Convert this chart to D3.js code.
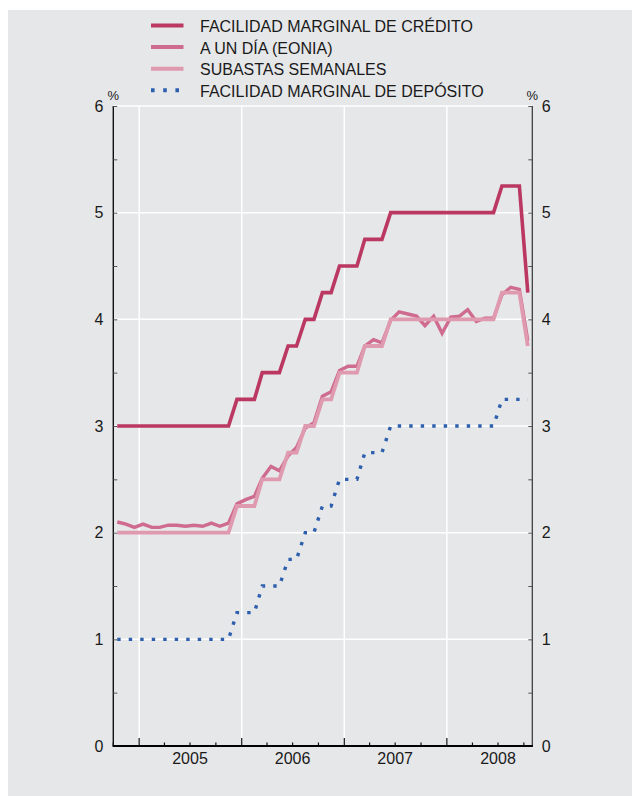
<!DOCTYPE html>
<html>
<head>
<meta charset="utf-8">
<script src="https://cdn.jsdelivr.net/npm/d3@7"></script>
<style>
    body { margin: 0; background: #fff; }
    svg { display: block; }
    text { font-family: "Liberation Sans", Arial, Helvetica, sans-serif; fill: #1a1a1a; }
</style>
</head>
<body>
<div id="chart"></div>
<script>
// monthly averages, Oct 2004 .. Oct 2008
let months = [
    '2004-10', '2004-11', '2004-12',
    '2005-01', '2005-02', '2005-03', '2005-04', '2005-05', '2005-06', '2005-07', '2005-08', '2005-09', '2005-10', '2005-11', '2005-12',
    '2006-01', '2006-02', '2006-03', '2006-04', '2006-05', '2006-06', '2006-07', '2006-08', '2006-09', '2006-10', '2006-11', '2006-12',
    '2007-01', '2007-02', '2007-03', '2007-04', '2007-05', '2007-06', '2007-07', '2007-08', '2007-09', '2007-10', '2007-11', '2007-12',
    '2008-01', '2008-02', '2008-03', '2008-04', '2008-05', '2008-06', '2008-07', '2008-08', '2008-09', '2008-10'
];

let credito = [
    3.00, 3.00, 3.00,
    3.00, 3.00, 3.00, 3.00, 3.00, 3.00, 3.00, 3.00, 3.00, 3.00, 3.00, 3.25,
    3.25, 3.25, 3.50, 3.50, 3.50, 3.75, 3.75, 4.00, 4.00, 4.25, 4.25, 4.50,
    4.50, 4.50, 4.75, 4.75, 4.75, 5.00, 5.00, 5.00, 5.00, 5.00, 5.00, 5.00,
    5.00, 5.00, 5.00, 5.00, 5.00, 5.00, 5.25, 5.25, 5.25, 4.25
];

let eonia = [
    2.10, 2.08, 2.05,
    2.08, 2.05, 2.05, 2.07, 2.07, 2.06, 2.07, 2.06, 2.09, 2.06, 2.09, 2.27,
    2.31, 2.34, 2.51, 2.62, 2.58, 2.72, 2.80, 2.98, 3.03, 3.28, 3.32, 3.52,
    3.56, 3.56, 3.75, 3.81, 3.78, 3.99, 4.07, 4.05, 4.03, 3.94, 4.03, 3.87,
    4.02, 4.03, 4.09, 3.98, 4.01, 4.01, 4.23, 4.30, 4.28, 3.80
];

let subastas = [
    2.00, 2.00, 2.00,
    2.00, 2.00, 2.00, 2.00, 2.00, 2.00, 2.00, 2.00, 2.00, 2.00, 2.00, 2.25,
    2.25, 2.25, 2.50, 2.50, 2.50, 2.75, 2.75, 3.00, 3.00, 3.25, 3.25, 3.50,
    3.50, 3.50, 3.75, 3.75, 3.75, 4.00, 4.00, 4.00, 4.00, 4.00, 4.00, 4.00,
    4.00, 4.00, 4.00, 4.00, 4.00, 4.00, 4.25, 4.25, 4.25, 3.75
];

let deposito = [
    1.00, 1.00, 1.00,
    1.00, 1.00, 1.00, 1.00, 1.00, 1.00, 1.00, 1.00, 1.00, 1.00, 1.00, 1.25,
    1.25, 1.25, 1.50, 1.50, 1.50, 1.75, 1.75, 2.00, 2.00, 2.25, 2.25, 2.50,
    2.50, 2.50, 2.75, 2.75, 2.75, 3.00, 3.00, 3.00, 3.00, 3.00, 3.00, 3.00,
    3.00, 3.00, 3.00, 3.00, 3.00, 3.00, 3.25, 3.25, 3.25, 3.25
];

let yTicks = [0, 1, 2, 3, 4, 5, 6];
let yearLabels = ['2005', '2006', '2007', '2008'];

let seriesNames = ['FACILIDAD MARGINAL DE CRÉDITO', 'A UN DÍA (EONIA)', 'SUBASTAS SEMANALES', 'FACILIDAD MARGINAL DE DEPÓSITO'];

let width = 632, height = 796;
let plot = {left: 113.3, right: 532.3, top: 106, bottom: 746};

let parseMonth = d3.timeParse('%Y-%m');
let dates = months.map(m => d3.timeDay.offset(parseMonth(m), 14));

let series = [
    {name: seriesNames[0], values: credito, color: '#bb3862', width: 3.6},
    {name: seriesNames[1], values: eonia, color: '#cf6b8e', width: 3.4},
    {name: seriesNames[2], values: subastas, color: '#df9aaf', width: 3.8},
    {name: seriesNames[3], values: deposito, color: '#2d5fae', width: 3.4, dash: '3.4,8.1'}
];

let svg = d3.select('#chart').append('svg')
    .attr('width', width)
    .attr('height', height);

// grey panel
svg.append('rect')
    .attr('x', 8).attr('y', 10)
    .attr('width', width - 8).attr('height', height - 10)
    .attr('fill', '#e6e7e9');

let x = d3.scaleTime()
    .domain([new Date(2004, 9, 1), new Date(2008, 9, 31)])
    .range([plot.left, plot.right]);
let y = d3.scaleLinear()
    .domain([0, 6])
    .range([plot.bottom, plot.top]);

// white grid
let years = yearLabels.map(yr => new Date(+yr, 0, 1));
svg.append('g')
    .selectAll('line')
    .data(yTicks.filter(t => t > 0))
    .enter().append('line')
    .attr('x1', plot.left).attr('x2', plot.right)
    .attr('y1', d => y(d)).attr('y2', d => y(d))
    .attr('stroke', '#fff').attr('stroke-width', 1.5);
svg.append('g')
    .selectAll('line')
    .data(years)
    .enter().append('line')
    .attr('x1', d => x(d)).attr('x2', d => x(d))
    .attr('y1', plot.top).attr('y2', plot.bottom)
    .attr('stroke', '#fff').attr('stroke-width', 1.5);

// y axes, ticks inward every 0.5
let halfTicks = d3.range(0, 6.01, 0.5);
let leftAxis = d3.axisRight(y).tickValues(halfTicks).tickSize(4).tickFormat('');
let rightAxis = d3.axisLeft(y).tickValues(halfTicks).tickSize(4).tickFormat('');
svg.append('g').attr('transform', `translate(${plot.left},0)`).call(leftAxis)
    .call(g => g.select('.domain').attr('stroke', '#111').attr('stroke-width', 1.4).attr('d', `M0,${plot.top}V${plot.bottom}`))
    .call(g => g.selectAll('.tick line').attr('stroke', '#555'));
svg.append('g').attr('transform', `translate(${plot.right},0)`).call(rightAxis)
    .call(g => g.select('.domain').attr('stroke', '#333').attr('stroke-width', 1.2).attr('d', `M0,${plot.top}V${plot.bottom}`))
    .call(g => g.selectAll('.tick line').attr('stroke', '#555'));

// y labels
svg.append('g').selectAll('text')
    .data(yTicks).enter().append('text')
    .attr('x', plot.left - 10).attr('y', d => y(d) + 5.6)
    .attr('text-anchor', 'end').style('font-size', '16px')
    .text(d => d);
svg.append('g').selectAll('text')
    .data(yTicks).enter().append('text')
    .attr('x', plot.right + 9.5).attr('y', d => y(d) + 5.6)
    .attr('text-anchor', 'start').style('font-size', '16px')
    .text(d => d);
svg.append('text').attr('x', plot.left).attr('y', 100).attr('text-anchor', 'middle').style('font-size', '13px').text('%');
svg.append('text').attr('x', plot.right).attr('y', 100).attr('text-anchor', 'middle').style('font-size', '13px').text('%');

// lines
let line = d3.line()
    .x((d, i) => x(dates[i]))
    .y(d => y(d));

series.forEach(s => {
    svg.append('path')
        .datum(s.values)
        .attr('d', line)
        .attr('fill', 'none')
        .attr('stroke', s.color)
        .attr('stroke-width', s.width)
        .attr('stroke-linejoin', 'miter')
        .attr('stroke-dasharray', s.dash || null);
});

// bottom axis: quarterly minor ticks, yearly major ticks, pointing up
let quarters = d3.timeMonth.every(3).range(new Date(2004, 9, 1), new Date(2008, 10, 1));
svg.append('g').selectAll('line')
    .data(quarters).enter().append('line')
    .attr('x1', d => x(d)).attr('x2', d => x(d))
    .attr('y1', plot.bottom)
    .attr('y2', d => d.getMonth() === 0 ? plot.bottom - 8 : plot.bottom - 3.5)
    .attr('stroke', '#111').attr('stroke-width', 1.2);
svg.append('line')
    .attr('x1', plot.left - 0.7).attr('x2', plot.right + 0.6)
    .attr('y1', plot.bottom).attr('y2', plot.bottom)
    .attr('stroke', '#000').attr('stroke-width', 2.2);

svg.append('g').selectAll('text')
    .data(yearLabels).enter().append('text')
    .attr('x', d => x(new Date(+d, 6, 1)))
    .attr('y', 764)
    .attr('text-anchor', 'middle').style('font-size', '16px')
    .text(d => d);

// legend
let legend = svg.append('g');
series.forEach((s, i) => {
    let ly = 25.5 + i * 21.6;
    legend.append('line')
        .attr('x1', 151).attr('x2', s.dash ? 184 : 183.5)
        .attr('y1', ly).attr('y2', ly)
        .attr('stroke', s.color)
        .attr('stroke-width', 4)
        .attr('stroke-dasharray', s.dash ? '3.6,8.6' : null);
    legend.append('text')
        .attr('x', 200).attr('y', ly + 6.6)
        .style('font-size', '16px')
        .text(s.name);
});
</script>
</body>
</html>
